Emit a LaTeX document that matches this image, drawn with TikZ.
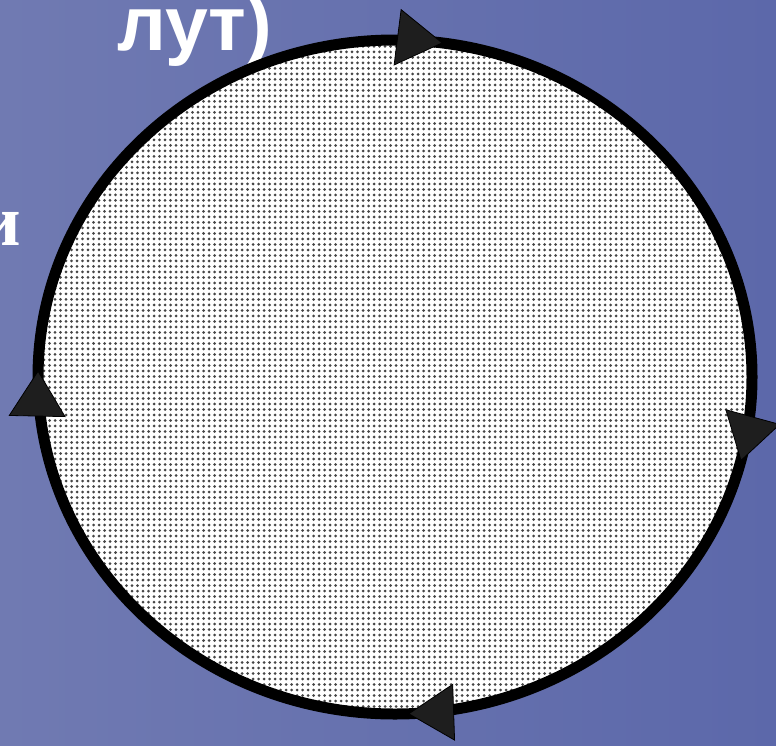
\documentclass[tikz,border=0pt]{standalone}
\usepackage{fontspec}
\setmainfont{Liberation Serif}
\setsansfont{Liberation Sans}
\usetikzlibrary{arrows.meta,decorations.markings,patterns.meta}
\definecolor{bgleft}{RGB}{112,122,178}
\definecolor{bgright}{RGB}{92,104,170}
\definecolor{tipgray}{RGB}{30,30,30}
\definecolor{dotgray}{RGB}{70,70,70}
\tikzset{
  cycletip/.tip={Triangle[length=46pt,width=57pt,fill=tipgray,line width=0.8pt]},
  cyclemark/.style={decoration={markings,
    mark=at position 0.039 with {\arrow{cycletip}},
    mark=at position 0.244 with {\arrow{cycletip}},
    mark=at position 0.503 with {\arrow{cycletip}},
    mark=at position 0.772 with {\arrow{cycletip}}}, postaction={decorate}},
  bigword/.style={text=white, inner sep=0pt}
}
\begin{document}
\begin{tikzpicture}[x=1pt,y=-1pt]
\useasboundingbox (0,0) rectangle (776,745);
\shade[left color=bgleft, right color=bgright] (0,0) rectangle (776,745);
\node[bigword, font=\sffamily\bfseries\fontsize{77}{80}\selectfont, anchor=base west] (title) at (117,50) {лут)};
\node[bigword, font=\bfseries\fontsize{72}{76}\selectfont, anchor=base east] (leftword) at (21,245) {и};
\fill[white] (395,377) ellipse [x radius=357, y radius=337];
\draw[line width=11pt, pattern={Dots[distance=5.5pt,radius=1.5pt]}, pattern color=dotgray, cyclemark] (395,377) ellipse [x radius=357, y radius=337];
\end{tikzpicture}
\end{document}
